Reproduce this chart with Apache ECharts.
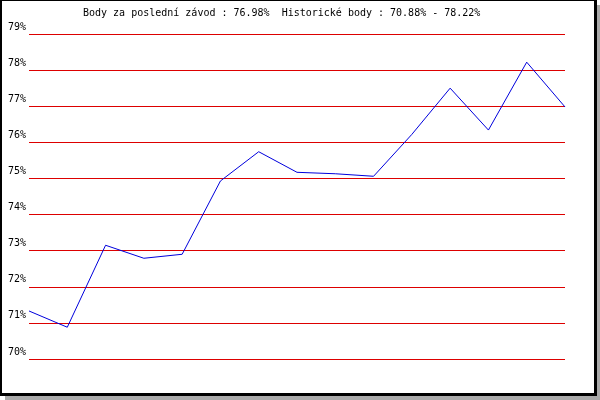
<!DOCTYPE html>
<html>
<head>
<meta charset="utf-8">
<script src="https://cdn.jsdelivr.net/npm/echarts@6/dist/echarts.min.js"></script>
<style>
  html, body { margin: 0; padding: 0; background: #fff; }
  #chart { width: 600px; height: 400px; }
</style>
</head>
<body>
<div id="chart"></div>
<script>
// zavody (poradi) a body v %
const races = ['1', '2', '3', '4', '5', '6', '7', '8', '9', '10', '11', '12', '13', '14', '15'];
const points = [71.33, 70.88, 73.15, 72.79, 72.90, 74.93, 75.74, 75.17, 75.13, 75.06, 76.22, 77.50, 76.34, 78.22, 76.98];
const yTicks = ['70%', '71%', '72%', '73%', '74%', '75%', '76%', '77%', '78%', '79%'];
const titleText = 'Body za poslední závod : 76.98%  Historické body : 70.88% - 78.22%';

const font = 'DejaVu Sans Mono';
const chart = echarts.init(document.getElementById('chart'));
chart.setOption({
  animation: false,
  backgroundColor: '#fff',
  title: {
    text: titleText,
    left: 83,
    top: 8,
    padding: 0,
    textStyle: { fontFamily: font, fontSize: 10, fontWeight: 'normal', color: '#000' }
  },
  // ramecek se stinem
  graphic: [
    { type: 'rect', z: -10, shape: { x: 5, y: 5, width: 595, height: 395 }, style: { fill: '#aaaaaa' }, silent: true },
    { type: 'rect', z: -9, shape: { x: 0, y: 0, width: 597, height: 396 }, style: { fill: '#000' }, silent: true },
    { type: 'rect', z: -8, shape: { x: 2, y: 1, width: 592, height: 392 }, style: { fill: '#fff' }, silent: true }
  ],
  grid: { left: 29, right: 35, top: 34, bottom: 41 },
  xAxis: {
    type: 'category',
    data: races,
    boundaryGap: false,
    show: false
  },
  yAxis: {
    type: 'value',
    min: 70,
    max: 79,
    interval: 1,
    axisLine: { show: false },
    axisTick: { show: false },
    axisLabel: {
      margin: 3,
      fontFamily: font,
      fontSize: 10,
      color: '#000',
      verticalAlign: 'bottom',
      lineHeight: 10,
      padding: [0, 0, 2, 0],
      formatter: (v) => yTicks[Math.round(v - 70)]
    },
    splitLine: { lineStyle: { color: '#dd0000', width: 1 } }
  },
  series: [
    {
      type: 'line',
      data: points,
      showSymbol: false,
      lineStyle: { color: '#0000dd', width: 1 },
      silent: true
    }
  ]
});
</script>
</body>
</html>
